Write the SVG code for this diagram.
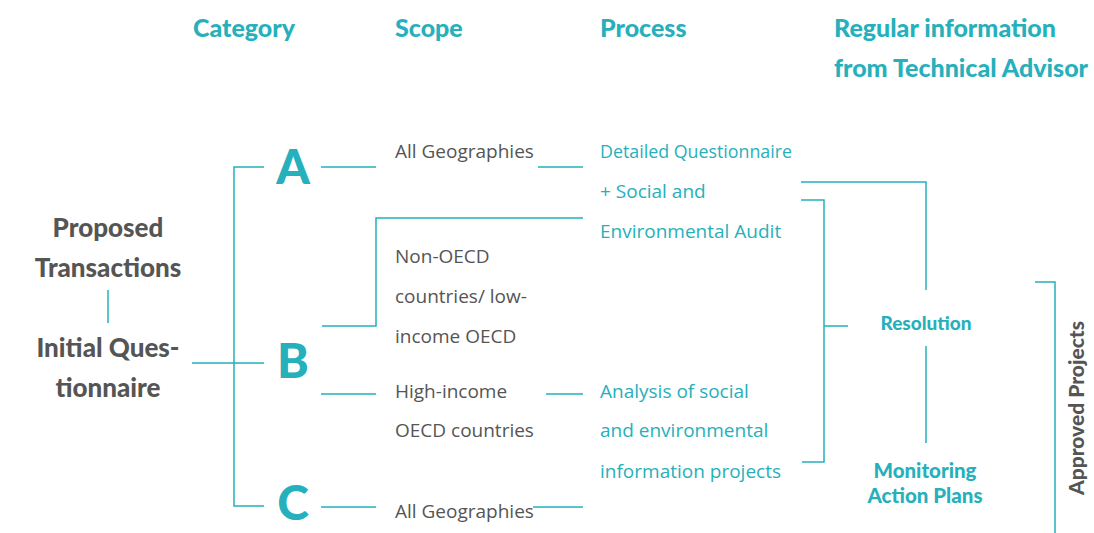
<svg xmlns="http://www.w3.org/2000/svg" width="1094" height="533" viewBox="0 0 1094 533">
<style>
.h{font-family:Lato,"Open Sans",sans-serif;font-weight:900;font-size:25px;fill:#26b0bc}
.g{font-family:"Open Sans",Lato,sans-serif;font-size:19px;fill:#555}
.t{font-family:"Open Sans",Lato,sans-serif;font-size:19px;fill:#26b0bc}
.gb{font-family:Lato,"Open Sans",sans-serif;font-weight:900;font-size:26px;fill:#555;text-anchor:middle}
.tb{font-family:Lato,"Open Sans",sans-serif;font-weight:900;font-size:19px;fill:#26b0bc;text-anchor:middle}
.L{font-family:Lato,"Open Sans",sans-serif;font-weight:900;font-size:48px;fill:#26b0bc;text-anchor:middle}
.c{fill:none;stroke:#26b0bc;stroke-width:1.5}
</style>
<rect width="1094" height="533" fill="#fff"/>
<g id="headers">
<text class="h" x="193" y="37">Category</text>
<text class="h" x="395" y="37">Scope</text>
<text class="h" x="600" y="37">Process</text>
<text class="h" x="834" y="37">Regular information</text>
<text class="h" x="834" y="77">from Technical Advisor</text>
</g>
<g id="proposed"><text class="gb" x="108" y="237">Proposed</text><text class="gb" x="108" y="277">Transactions</text></g>
<g id="initial"><text class="gb" x="108" y="357">Initial Ques-</text><text class="gb" x="108" y="397">tionnaire</text></g>
<g id="catA"><text class="L" x="293" y="184">A</text></g>
<g id="catB"><text class="L" x="293" y="378">B</text></g>
<g id="catC"><text class="L" x="293" y="520">C</text></g>
<g id="scopeA"><text class="g" x="395" y="158">All Geographies</text></g>
<g id="scopeB1"><text class="g" x="395" y="263">Non-OECD</text><text class="g" x="395" y="303">countries/ low-</text><text class="g" x="395" y="343">income OECD</text></g>
<g id="scopeB2"><text class="g" x="395" y="398">High-income</text><text class="g" x="395" y="437">OECD countries</text></g>
<g id="scopeC"><text class="g" x="395" y="518">All Geographies</text></g>
<g id="procDetailed"><text class="t" x="600" y="158" textLength="192" lengthAdjust="spacingAndGlyphs">Detailed Questionnaire</text><text class="t" x="600" y="198">+ Social and</text><text class="t" x="600" y="238">Environmental Audit</text></g>
<g id="procAnalysis"><text class="t" x="600" y="398">Analysis of social</text><text class="t" x="600" y="437">and environmental</text><text class="t" x="600" y="478">information projects</text></g>
<g id="resolution"><text class="tb" x="926" y="330">Resolution</text></g>
<g id="monitoring"><text class="tb" x="925" y="478" style="font-size:20.5px">Monitoring</text><text class="tb" x="925" y="503" style="font-size:20.5px">Action Plans</text></g>
<g id="approved"><text class="tb" style="fill:#555;font-size:21px" transform="translate(1084,408) rotate(-90)">Approved Projects</text></g>
<g id="connectors">
<path class="c" d="M108 290V323"/>
<path class="c" d="M264 167H234V506H264M192 363H264"/>
<path class="c" d="M321 167H376M322 326H376V218H583M321 394H376M321 507H376"/>
<path class="c" d="M538 167H583M546 394H583M533 507H583"/>
<path class="c" d="M801 182H926V290M926 346V443"/>
<path class="c" d="M801 200H824V462H802M824 326H848"/>
<path class="c" d="M1035 282H1055V533"/>
</g>
</svg>
